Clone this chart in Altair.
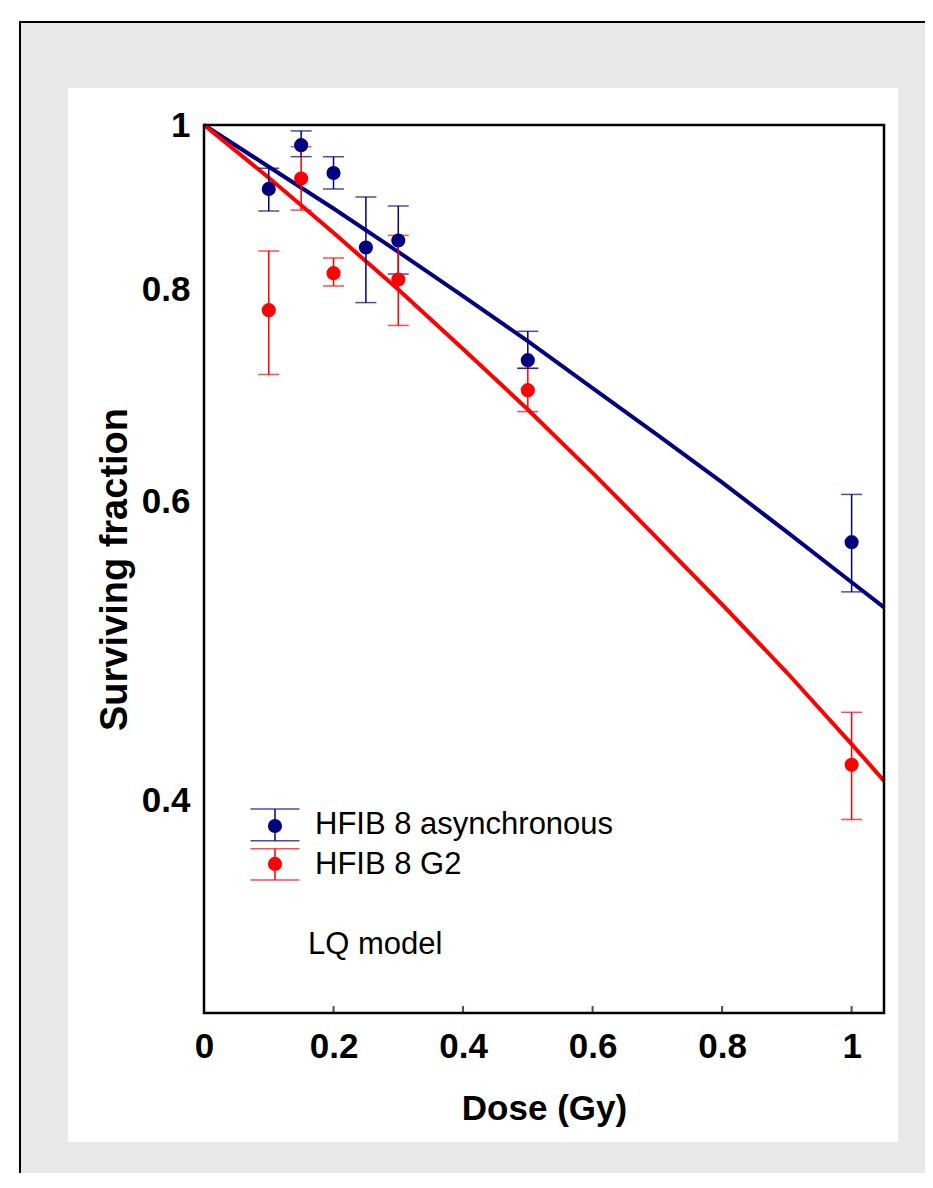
import altair as alt
import pandas as pd

# ---- data ----
async_dose = [0.1, 0.15, 0.2, 0.25, 0.3, 0.5, 1.0]
async_sf = [0.917, 0.973, 0.937, 0.847, 0.855, 0.727, 0.568]
async_hi = [0.943, 0.992, 0.958, 0.907, 0.896, 0.756, 0.606]
async_lo = [0.890, 0.958, 0.917, 0.786, 0.817, 0.719, 0.531]

g2_dose = [0.1, 0.15, 0.2, 0.3, 0.5, 1.0]
g2_sf = [0.778, 0.930, 0.818, 0.811, 0.698, 0.420]
g2_hi = [0.843, 0.971, 0.835, 0.861, 0.719, 0.451]
g2_lo = [0.713, 0.891, 0.804, 0.762, 0.678, 0.390]

fit_dose = [0.0, 0.1, 0.2, 0.3, 0.4, 0.5, 0.6, 0.7, 0.8, 0.9, 1.0, 1.05]
fit_async = [1.0, 0.945, 0.893, 0.842, 0.793, 0.746, 0.700, 0.657, 0.616, 0.576, 0.538, 0.520]
fit_g2 = [1.0, 0.931, 0.864, 0.800, 0.738, 0.680, 0.624, 0.571, 0.522, 0.476, 0.432, 0.411]

x_ticks = [0, 0.2, 0.4, 0.6, 0.8, 1.0]
y_ticks = [0.4, 0.6, 0.8, 1.0]

series_names = ["HFIB 8 asynchronous", "HFIB 8 G2"]
series_colors = ["#000080", "#ff0000"]

# legend (placed in data coordinates)
leg_dose = 0.1096
leg_text_dose = 0.1714
leg_sf = [0.3866, 0.3672]
leg_hi = [0.3956, 0.3748]
leg_lo = [0.3789, 0.3593]
leg_text_sf = [0.3872, 0.3667]
note_text = "LQ model"
note_dose = 0.1606
note_sf = 0.3291

FONT = "Liberation Sans"
W, H = 680, 888

# ---- tables ----
pts = pd.concat([
    pd.DataFrame({"dose": async_dose, "sf": async_sf, "hi": async_hi, "lo": async_lo,
                  "series": series_names[0]}),
    pd.DataFrame({"dose": g2_dose, "sf": g2_sf, "hi": g2_hi, "lo": g2_lo,
                  "series": series_names[1]}),
])
fits = pd.concat([
    pd.DataFrame({"dose": fit_dose, "sf": fit_async, "series": series_names[0]}),
    pd.DataFrame({"dose": fit_dose, "sf": fit_g2, "series": series_names[1]}),
])
leg = pd.DataFrame({"dose": [leg_dose] * 2, "sf": leg_sf, "hi": leg_hi, "lo": leg_lo,
                    "tdose": [leg_text_dose] * 2, "tsf": leg_text_sf,
                    "series": series_names})
note = pd.DataFrame({"dose": [note_dose], "sf": [note_sf], "label": [note_text]})
xt = pd.DataFrame({"dose": x_ticks, "sf": [0.3] * len(x_ticks)})
one = pd.DataFrame({"a": [0]})

xscale = alt.Scale(domain=[0, 1.05], nice=False, zero=False)
yscale = alt.Scale(type="log", domain=[0.3, 1.0], nice=False)
xaxis = alt.Axis(values=x_ticks, format=".1~f", title="Dose (Gy)", grid=False, domain=False,
                 ticks=False, tickSize=0, labelFont=FONT, labelFontSize=35,
                 labelFontWeight="bold", labelColor="black", labelPadding=16,
                 titleFont=FONT, titleFontSize=35, titleFontWeight="bold", titleColor="black",
                 titlePadding=27, zindex=1, labelFlush=False)
yaxis = alt.Axis(values=y_ticks, format=".1~f", title="Surviving fraction", grid=False,
                 domain=False, ticks=False, tickSize=0, labelFont=FONT, labelFontSize=35,
                 labelFontWeight="bold", labelColor="black", labelPadding=14,
                 titleFont=FONT, titleFontSize=38, titleFontWeight="bold", titleColor="black",
                 titlePadding=7, zindex=1, labelFlush=False)


def X(field="dose"):
    return alt.X(f"{field}:Q", scale=xscale, axis=xaxis)


def Y(field="sf"):
    return alt.Y(f"{field}:Q", scale=yscale, axis=yaxis)


color = alt.Color("series:N", scale=alt.Scale(domain=series_names, range=series_colors),
                  legend=None)

# decorative frame and panel
outer = alt.Chart(one).mark_rect(fill="#e8e8e8", stroke="black", strokeWidth=2).encode(
    x=alt.value(-184), x2=alt.value(800), y=alt.value(-103), y2=alt.value(1200))
panel = alt.Chart(one).mark_rect(fill="white").encode(
    x=alt.value(-136), x2=alt.value(694), y=alt.value(-37), y2=alt.value(1017))
frame = alt.Chart(one).mark_rect(fill="transparent", stroke="black", strokeWidth=2.5).encode(
    x=alt.value(0), x2=alt.value(W), y=alt.value(0), y2=alt.value(H))

lines = alt.Chart(fits).mark_line(strokeWidth=4).encode(
    x=X(), y=Y(), color=color, detail="series:N")

bars = alt.Chart(pts).mark_rule(strokeWidth=1.5).encode(
    x=X(), y=Y("lo"), y2="hi:Q", color=color)
cap_hi = alt.Chart(pts).mark_tick(orient="horizontal", size=21, thickness=1.5).encode(
    x=X(), y=Y("hi"), color=color)
cap_lo = alt.Chart(pts).mark_tick(orient="horizontal", size=21, thickness=1.5).encode(
    x=X(), y=Y("lo"), color=color)
dots = alt.Chart(pts).mark_circle(size=200, opacity=1).encode(
    x=X(), y=Y(), color=color)

xticks_in = alt.Chart(xt).mark_tick(orient="vertical", size=7, thickness=2, color="black",
                                    yOffset=-3.5).encode(x=X(), y=Y())

# legend
leg_bar = alt.Chart(leg).mark_rule(strokeWidth=1.5).encode(
    x=X(), y=Y("lo"), y2="hi:Q", color=color)
leg_hi_c = alt.Chart(leg).mark_tick(orient="horizontal", size=49, thickness=1.5).encode(
    x=X(), y=Y("hi"), color=color)
leg_lo_c = alt.Chart(leg).mark_tick(orient="horizontal", size=49, thickness=1.5).encode(
    x=X(), y=Y("lo"), color=color)
leg_dot = alt.Chart(leg).mark_circle(size=200, opacity=1).encode(
    x=X(), y=Y(), color=color)
leg_txt = alt.Chart(leg).mark_text(align="left", baseline="middle", font=FONT, fontSize=31,
                                   color="black").encode(
    x=X("tdose"), y=Y("tsf"), text="series:N")
note_txt = alt.Chart(note).mark_text(align="left", baseline="middle", font=FONT, fontSize=31,
                                     color="black").encode(
    x=X(), y=Y(), text="label:N")

chart = alt.layer(
    outer, panel, lines, bars, cap_hi, cap_lo, dots, frame, xticks_in,
    leg_bar, leg_hi_c, leg_lo_c, leg_dot, leg_txt, note_txt
).properties(
    width=W, height=H,
    autosize=alt.AutoSizeParams(type="none"),
    padding={"left": 196, "top": 117, "right": 41, "bottom": 160},
    background="white",
).configure_view(stroke=None)

chart.save("out.html", embed_options={"renderer": "svg", "actions": False})
